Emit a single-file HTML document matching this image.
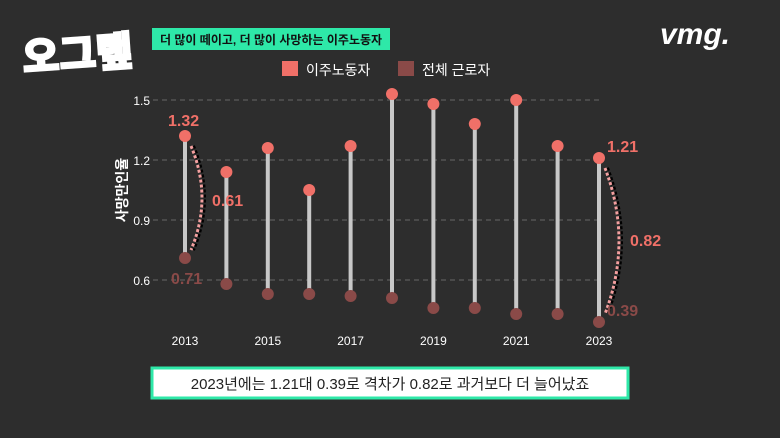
<!DOCTYPE html>
<html><head><meta charset="utf-8"><style>
html,body{margin:0;padding:0;}
body{width:780px;height:438px;background:#2d2d2d;overflow:hidden;position:relative;font-family:"Liberation Sans","Noto Sans CJK KR",sans-serif;}
svg{position:absolute;left:0;top:0;}
</style></head><body>
<svg width="780" height="438">
<rect width="780" height="438" fill="#2d2d2d"/>
<g>
<text x="22" y="68" font-size="40" font-weight="900" fill="#fff" stroke="#fff" stroke-width="2" font-family="'Noto Sans CJK KR',sans-serif" transform="rotate(-4 80 50)">오그랲</text>
</g>
<rect x="152" y="28" width="238" height="22" fill="#2ee8a8"/>
<text x="160" y="44" font-size="12" font-weight="bold" fill="#111">더 많이 떼이고, 더 많이 사망하는 이주노동자</text>
<text x="660" y="44" font-size="30" font-weight="900" fill="#fff" font-style="italic">vmg.</text>
<g>
<rect x="282" y="61" width="16" height="15" fill="#f07068"/>
<text x="306" y="75" font-size="14" fill="#fff">이주노동자</text>
<rect x="398" y="61" width="16" height="15" fill="#8a4a48"/>
<text x="422" y="75" font-size="14" fill="#fff">전체 근로자</text>
</g>
<text transform="translate(127 190) rotate(-90)" text-anchor="middle" font-size="14" font-weight="bold" fill="#fff">사망만인율</text>
<g id="plot"></g>
<rect x="152" y="368" width="476" height="30" fill="#fff" stroke="#2ee8a8" stroke-width="3"/>
<text x="390" y="389" text-anchor="middle" font-size="15" fill="#222">2023년에는 1.21대 0.39로 격차가 0.82로 과거보다 더 늘어났죠</text>
</svg>
<script>
const years=[2013,2014,2015,2016,2017,2018,2019,2020,2021,2022,2023];
const migrant=[1.32,1.14,1.26,1.05,1.27,1.53,1.48,1.38,1.50,1.27,1.21];
const allWorkers=[0.71,0.58,0.53,0.53,0.52,0.51,0.46,0.46,0.43,0.43,0.39];
const yTicks=[0.6,0.9,1.2,1.5];
const xTickYears=[2013,2015,2017,2019,2021,2023];
const ns="http://www.w3.org/2000/svg";
const g=document.getElementById('plot');
function X(yr){return 185+(yr-2013)*41.4;}
function Y(v){return 100+(1.5-v)*200;}
function mk(tag,attrs,parent){const e=document.createElementNS(ns,tag);for(const k in attrs)e.setAttribute(k,attrs[k]);(parent||g).appendChild(e);return e;}
yTicks.forEach(t=>{
 const l=mk('line',{x1:153,x2:600,y1:Y(t),y2:Y(t),stroke:'#666','stroke-dasharray':'5 4','stroke-width':1});
 
 
 const tx=mk('text',{x:150,y:Y(t)+5,'text-anchor':'end','font-size':12,fill:'#fff'});
 tx.textContent=t.toFixed(1);
 
 
});
xTickYears.forEach(yr=>{
 const tx=mk('text',{x:X(yr),y:345,'text-anchor':'middle','font-size':12,fill:'#fff'});
 tx.textContent=yr;
 
 
});
years.forEach((yr,i)=>{
 const l=mk('line',{x1:X(yr),x2:X(yr),y1:Y(migrant[i]),y2:Y(allWorkers[i]),stroke:'#c8c8c8','stroke-width':4});
 
 
 const a=mk('circle',{cx:X(yr),cy:Y(allWorkers[i]),r:6,fill:'#8a4a48'});
 
 
 const m=mk('circle',{cx:X(yr),cy:Y(migrant[i]),r:6,fill:'#f07068'});
 
 
});
function brace(i,dx){
 const x=X(years[i]),y1=Y(migrant[i])+10,y2=Y(allWorkers[i])-8;
 const d=`M${x+6} ${y1} Q${x+dx} ${(y1+y2)/2} ${x+6} ${y2}`;
 const b=mk('path',{d:d,fill:'none',stroke:'#000','stroke-width':4,'stroke-dasharray':'3 2',transform:'translate(2 0)'});
 
 
 const p=mk('path',{d:d,fill:'none',stroke:'#f4a0a0','stroke-width':3,'stroke-dasharray':'3 2'});
 
 
}
brace(0,28);brace(10,34);
function lbl(x,y,t,c,name,sz){const e=mk('text',{x:x,y:y,'font-size':sz||16,'font-weight':'bold',fill:c});e.textContent=t;}
lbl(168,126,migrant[0].toFixed(2),'#f07068','label-2013-migrant');
lbl(171,284,allWorkers[0].toFixed(2),'#8a4a48','label-2013-all');
lbl(212,206,(migrant[0]-allWorkers[0]).toFixed(2),'#f07068','label-2013-gap');
lbl(607,152,migrant[10].toFixed(2),'#f07068','label-2023-migrant');
lbl(607,316,allWorkers[10].toFixed(2),'#8a4a48','label-2023-all');
lbl(630,246,(migrant[10]-allWorkers[10]).toFixed(2),'#f07068','label-2023-gap');
</script>
</body></html>
